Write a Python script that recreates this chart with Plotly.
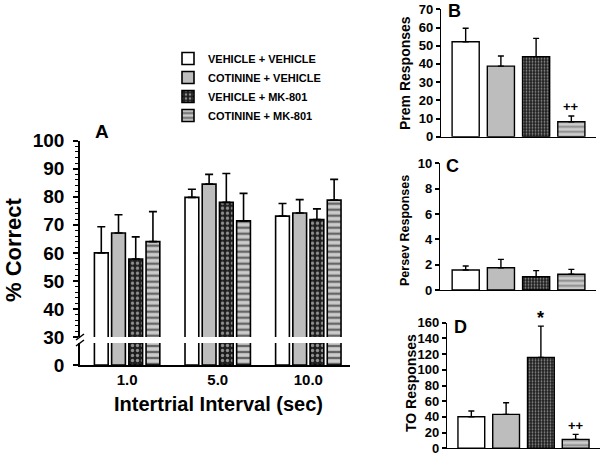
import plotly.graph_objects as go

# ---------------- data ----------------
group_names = ["VEHICLE + VEHICLE", "COTININE + VEHICLE", "VEHICLE + MK-801", "COTININE + MK-801"]
intervals = ["1.0", "5.0", "10.0"]

# Panel A: % correct (mean, upward SEM) per interval
veh_veh_correct = [60.0, 79.8, 73.1]
veh_veh_correct_err = [9.3, 2.9, 4.5]
cot_veh_correct = [67.1, 84.5, 74.2]
cot_veh_correct_err = [6.5, 3.5, 4.8]
veh_mk_correct = [57.8, 78.0, 71.9]
veh_mk_correct_err = [7.9, 10.3, 3.8]
cot_mk_correct = [64.0, 71.4, 78.8]
cot_mk_correct_err = [10.7, 9.8, 7.4]

# Panel B: premature responses
prem_mean = [52.2, 38.8, 44.0, 8.2]
prem_err = [7.4, 5.5, 10.0, 3.2]
# Panel C: perseverative responses
persev_mean = [1.58, 1.76, 1.05, 1.24]
persev_err = [0.32, 0.66, 0.48, 0.39]
# Panel D: time-out responses
to_mean = [40.2, 43.2, 115.8, 11.4]
to_err = [7.3, 14.8, 39.8, 6.4]

# ---------------- styles ----------------
FONT = "Liberation Sans, Arial, sans-serif"
fills = ["white", "#bdbdbd", "#1e1e1e", "#cccccc"]
pat_shapes = ["", "", ".", "-"]
pat_fg = ["black", "black", "white", "black"]
W, H = 601, 457


def px_x(p):
    return p / W


def px_y(p):
    return 1 - p / H


fig = go.Figure()

a_means = [veh_veh_correct, cot_veh_correct, veh_mk_correct, cot_mk_correct]
a_errs = [veh_veh_correct_err, cot_veh_correct_err, veh_mk_correct_err, cot_mk_correct_err]

for i in range(4):
    pattern = dict(shape=pat_shapes[i], fgcolor=pat_fg[i], bgcolor=fills[i],
                   size=6 if pat_shapes[i] == "-" else 5,
                   solidity=0.4 if pat_shapes[i] == "-" else 0.35)
    # upper part of broken axis
    fig.add_trace(go.Bar(
        x=intervals, y=a_means[i], name=group_names[i], xaxis="x2", yaxis="y2",
        marker=dict(color=fills[i], line=dict(color="black", width=1.6), pattern=pattern),
        error_y=dict(type="data", array=a_errs[i], arrayminus=[0] * 3, symmetric=False,
                     color="black", thickness=1.6, width=4),
        showlegend=True, legendrank=i))
    # lower part of broken axis
    fig.add_trace(go.Bar(
        x=intervals, y=a_means[i], name=group_names[i], xaxis="x", yaxis="y",
        marker=dict(color=fills[i], line=dict(color="black", width=1.6), pattern=pattern),
        showlegend=False))

small_pattern = dict(shape=pat_shapes, fgcolor=pat_fg, bgcolor=fills, size=[5, 5, 3, 5],
                     solidity=[0.3, 0.3, 0.3, 0.38])
for ax, mean, err in [("3", prem_mean, prem_err), ("4", persev_mean, persev_err), ("5", to_mean, to_err)]:
    fig.add_trace(go.Bar(
        x=[0, 1, 2, 3], y=mean, width=0.77, xaxis="x" + ax, yaxis="y" + ax,
        marker=dict(color=fills, line=dict(color="black", width=1.4), pattern=small_pattern),
        error_y=dict(type="data", array=err, arrayminus=[0] * 4, symmetric=False,
                     color="black", thickness=1.4, width=3),
        showlegend=False))

axis_common = dict(showline=True, linecolor="black", linewidth=1.6, showgrid=False, zeroline=False,
                   ticks="outside", tickcolor="black", tickwidth=1.5, ticklen=5)
small_axis = {**axis_common, "linewidth": 1.4, "ticklen": 4}


def bold_tick(s):
    return dict(family=FONT, size=s, color="black", weight="bold")


A_x = [px_x(80), px_x(350)]
fig.update_layout(
    xaxis=dict(domain=A_x, range=[-0.52, 2.46], anchor="y", showline=True, linecolor="black",
               linewidth=1.6, ticks="", showgrid=False, zeroline=False,
               tickfont=bold_tick(15)),
    yaxis=dict(domain=[px_y(365), px_y(343)], range=[0, 7.86], anchor="x", tickvals=[0],
               tickfont=bold_tick(19), ticklabelstandoff=5, **axis_common),
    xaxis2=dict(domain=A_x, matches="x", anchor="y2", showline=False, showticklabels=False,
                ticks="", showgrid=False, zeroline=False),
    yaxis2=dict(domain=[px_y(337), px_y(140.7)], range=[30, 100], anchor="x2", dtick=10,
                tickfont=bold_tick(19), ticklabelstandoff=5,
                minor=dict(dtick=2, ticks="outside", ticklen=3, tickcolor="black", tickwidth=1),
                **axis_common),
    xaxis3=dict(domain=[px_x(441), px_x(596)], range=[-0.7, 3.7], anchor="y3", showline=True,
                linecolor="black", linewidth=1.4, ticks="", showticklabels=False,
                showgrid=False, zeroline=False),
    yaxis3=dict(domain=[px_y(136.7), px_y(9.3)], range=[0, 70], dtick=10, anchor="x3",
                tickfont=bold_tick(13), **small_axis),
    xaxis4=dict(domain=[px_x(440), px_x(596)], range=[-0.73, 3.7], anchor="y4", showline=True,
                linecolor="black", linewidth=1.4, ticks="", showticklabels=False,
                showgrid=False, zeroline=False),
    yaxis4=dict(domain=[px_y(290), px_y(163.3)], range=[0, 10], dtick=2, anchor="x4",
                tickfont=bold_tick(13), **small_axis),
    xaxis5=dict(domain=[px_x(447), px_x(600)], range=[-0.7, 3.7], anchor="y5", showline=True,
                linecolor="black", linewidth=1.4, ticks="", showticklabels=False,
                showgrid=False, zeroline=False),
    yaxis5=dict(domain=[px_y(448.3), px_y(322.7)], range=[0, 160], dtick=20, anchor="x5",
                tickfont=bold_tick(13), **small_axis),
    barmode="group", bargap=0.24, bargroupgap=0.2,
    width=W, height=H, autosize=False,
    margin=dict(l=0, r=0, t=0, b=0, pad=0, autoexpand=False),
    paper_bgcolor="white", plot_bgcolor="white",
    font=dict(family=FONT, color="black"),
    legend=dict(x=px_x(168), y=px_y(44), xanchor="left", yanchor="top",
                font=dict(family=FONT, size=11, color="black", weight="bold"),
                tracegroupgap=0, itemwidth=30, bgcolor="rgba(0,0,0,0)"),
)


def ann(text, x, y, size, xref="paper", yref="paper", angle=0, yshift=0):
    fig.add_annotation(text=text, x=x, y=y, xref=xref, yref=yref, showarrow=False,
                       textangle=angle, yshift=yshift,
                       font=dict(family=FONT, size=size, color="black", weight="bold"),
                       xanchor="center", yanchor="middle")


ann("% Correct", px_x(14), px_y(250), 22, angle=-90)
ann("Intertrial Interval (sec)", px_x(218), px_y(404), 20)
ann("A", px_x(102), px_y(131), 19)
ann("B", px_x(454), px_y(11), 18)
ann("C", px_x(452), px_y(166), 18)
ann("D", px_x(460), px_y(327), 18)
ann("Prem Responses", px_x(405), px_y(73), 14, angle=-90)
ann("Persev Responses", px_x(405), px_y(231), 12.5, angle=-90)
ann("TO Responses", px_x(411), px_y(383), 14, angle=-90)
ann("++", 3, prem_mean[3] + prem_err[3], 13, xref="x3", yref="y3", yshift=9)
ann("++", 3, to_mean[3] + to_err[3], 13, xref="x5", yref="y5", yshift=9)
ann("*", 2, to_mean[2] + to_err[2], 18, xref="x5", yref="y5", yshift=8)

# axis-break marks
for yb in (337, 343):
    fig.add_shape(type="line", xref="paper", yref="paper",
                  x0=px_x(76), x1=px_x(84), y0=px_y(yb + 3), y1=px_y(yb - 3),
                  line=dict(color="black", width=1.5))

# remove the default 8px page margin so the figure fills the window exactly
fig.write_html("out.html", config={"displayModeBar": False},
               post_script="document.body.style.margin='0';document.body.style.overflow='hidden';")
